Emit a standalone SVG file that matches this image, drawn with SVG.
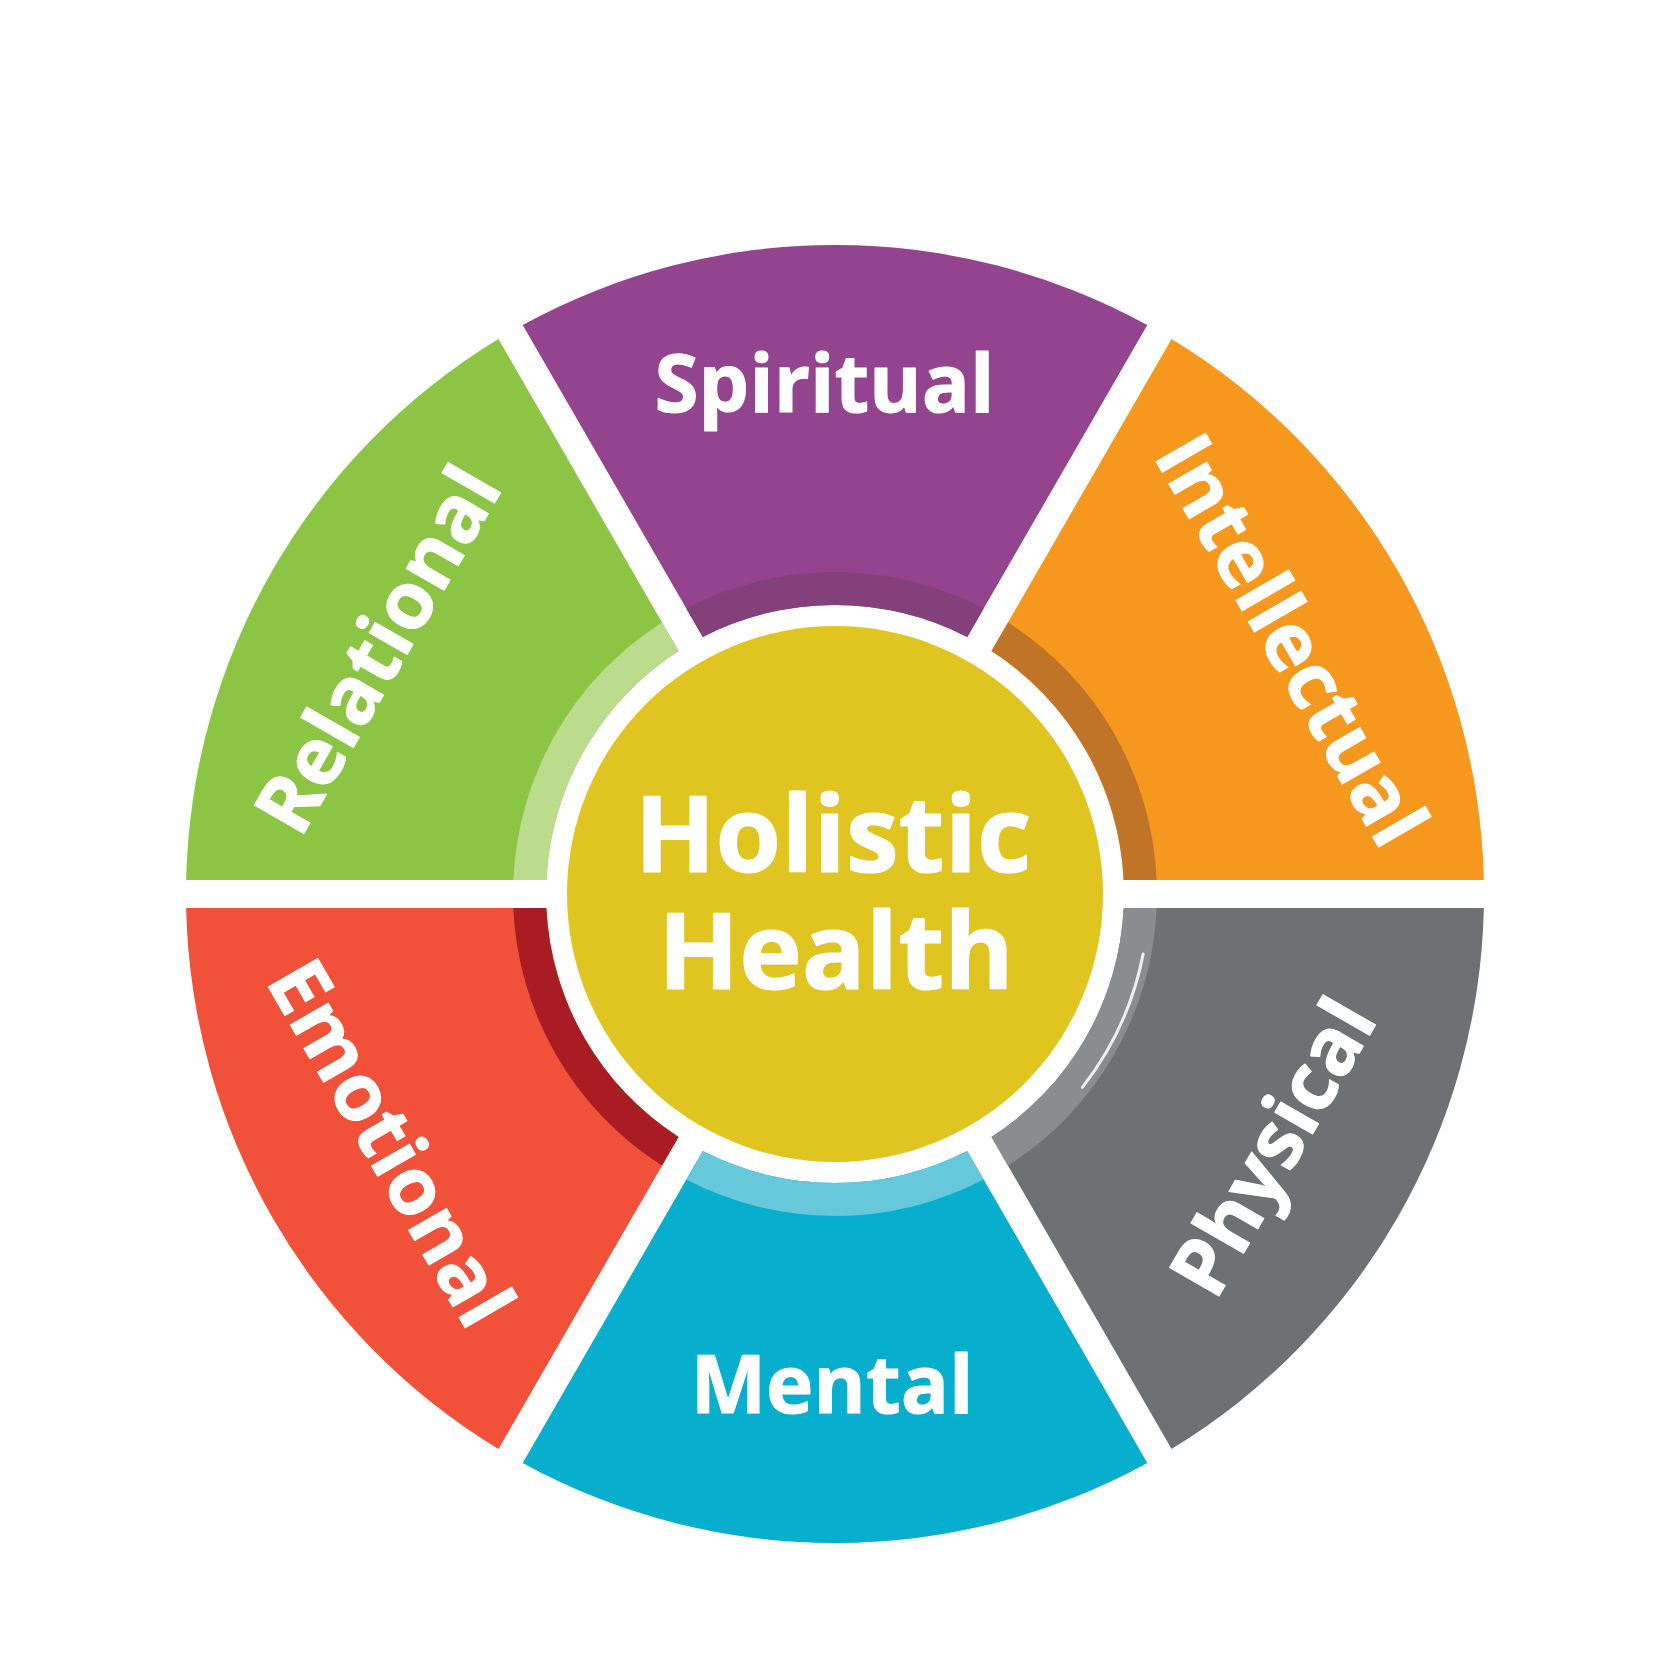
<svg xmlns="http://www.w3.org/2000/svg" xmlns:xlink="http://www.w3.org/1999/xlink" width="1672" height="1672" viewBox="0 0 1672 1672">
  <style>
    .lbl { font-family: "Open Sans", "Liberation Sans", sans-serif; font-weight: 700; font-size: 80px; fill: #ffffff; stroke: #ffffff; stroke-width: 1px; stroke-linejoin: round; text-anchor: middle; }
    .hub { font-family: "Open Sans", "Liberation Sans", sans-serif; font-weight: 700; font-size: 106px; fill: #ffffff; stroke: #ffffff; stroke-width: 1.2px; stroke-linejoin: round; text-anchor: middle; }
  </style>
  <defs>
    <path id="seg" d="M -312.30,-568.92 A 649 649 0 0 1 312.30,-568.92 L 132.21,-256.99 A 289 289 0 0 0 -132.21,-256.99 Z"/>
    <path id="band" d="M -148.73,-285.60 A 322 322 0 0 1 148.73,-285.60 L 132.21,-256.99 A 289 289 0 0 0 -132.21,-256.99 Z"/>
  </defs>
  <rect x="0" y="0" width="1672" height="1672" fill="#ffffff"/>

  <g id="spiritual">
    <g transform="translate(835,894)">
      <use href="#seg" fill="#94448E"/>
      <use href="#band" fill="#84407A"/>
    </g>
    <text class="lbl" x="824.5" y="412">Spiritual</text>
  </g>

  <g id="intellectual">
    <g transform="translate(835,894) rotate(60)">
      <use href="#seg" fill="#F7981E"/>
      <use href="#band" fill="#C07428"/>
    </g>
    <text class="lbl" transform="translate(1267,654) rotate(60)" x="0" y="0">Intellectual</text>
  </g>

  <g id="physical">
    <g transform="translate(835,894) rotate(120)">
      <use href="#seg" fill="#6D7173"/>
      <use href="#band" fill="#8A8D90"/>
    </g>
    <path d="M 1143.2,953.9 A 314 314 0 0 1 1082.4,1087.3" fill="none" stroke="#ffffff" stroke-width="3" stroke-linecap="round" opacity="0.85"/>
    <text class="lbl" transform="translate(1297,1161) rotate(-60)" x="0" y="0">Physical</text>
  </g>

  <g id="mental">
    <g transform="translate(835,894) rotate(180)">
      <use href="#seg" fill="#08AECE"/>
      <use href="#band" fill="#66C8DA"/>
    </g>
    <text class="lbl" x="832" y="1413">Mental</text>
  </g>

  <g id="emotional">
    <g transform="translate(835,894) rotate(240)">
      <use href="#seg" fill="#F05138"/>
      <use href="#band" fill="#A91C24"/>
    </g>
    <text class="lbl" transform="translate(366.5,1157) rotate(60)" x="0" y="0">Emotional</text>
  </g>

  <g id="relational">
    <g transform="translate(835,894) rotate(300)">
      <use href="#seg" fill="#8CC443"/>
      <use href="#band" fill="#BADC8C"/>
    </g>
    <text class="lbl" transform="translate(402,663.5) rotate(-60)" x="0" y="0">Relational</text>
  </g>

  <g id="holistic-health">
    <circle cx="835" cy="894" r="268" fill="#E0C521"/>
    <text class="hub" x="833" y="872">Holistic</text>
    <text class="hub" x="836" y="988.5">Health</text>
  </g>
</svg>
